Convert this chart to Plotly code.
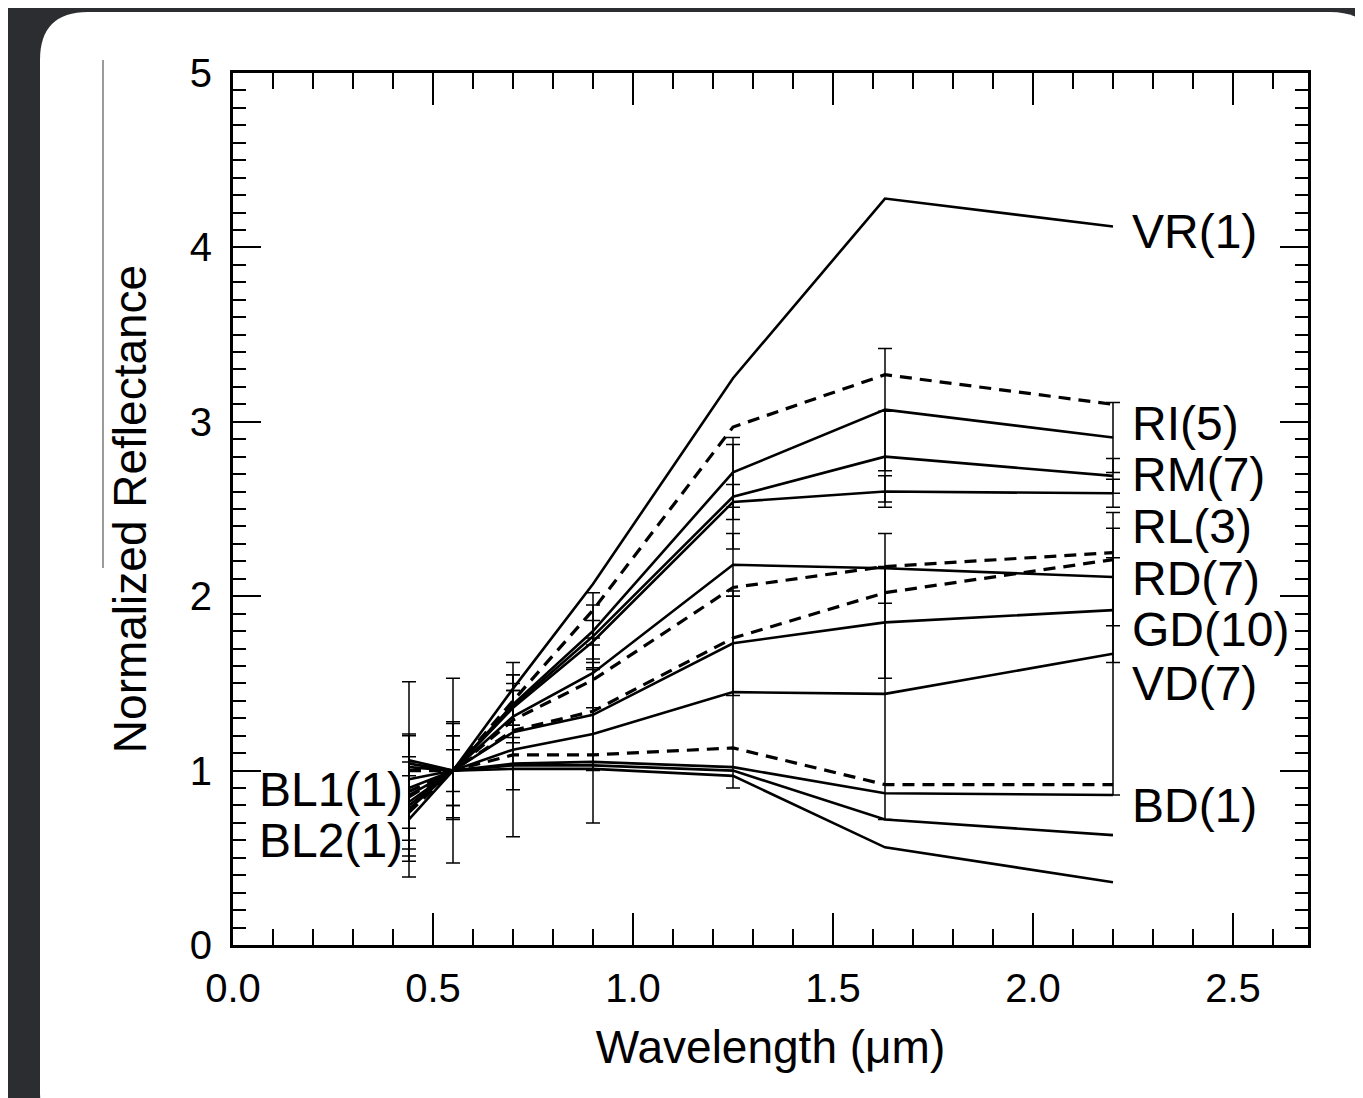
import plotly.graph_objects as go

# ---------------- data ----------------
wavelengths = [0.44, 0.55, 0.70, 0.90, 1.25, 1.63, 2.20]

# class means (solid lines)
VR = [0.72, 1.00, 1.47, 2.07, 3.25, 4.28, 4.12]
RI = [0.78, 1.00, 1.38, 1.80, 2.71, 3.07, 2.91]
RM = [0.80, 1.00, 1.37, 1.77, 2.57, 2.80, 2.69]
RL = [0.82, 1.00, 1.36, 1.74, 2.54, 2.60, 2.59]
RD = [0.86, 1.00, 1.31, 1.56, 2.18, 2.16, 2.11]
GD = [0.90, 1.00, 1.22, 1.32, 1.73, 1.85, 1.92]
VD = [0.95, 1.00, 1.12, 1.21, 1.45, 1.44, 1.67]
BD = [1.02, 1.00, 1.04, 1.05, 1.02, 0.87, 0.86]
BL1 = [1.04, 1.00, 1.03, 1.03, 1.00, 0.72, 0.63]
BL2 = [1.06, 1.00, 1.01, 1.01, 0.97, 0.56, 0.36]

# class standard deviations (error bars)
RI_err = [0.30, 0.20, 0.12, 0.22, 0.20, 0.35, 0.20]
RM_err = [0.25, 0.27, 0.18, 0.18, 0.30, 0.26, 0.10]
RL_err = [0.15, 0.12, 0.10, 0.12, 0.10, 0.09, 0.08]
RD_err = [0.35, 0.20, 0.15, 0.20, 0.18, 0.20, 0.28]
GD_err = [0.30, 0.28, 0.33, 0.32, 0.30, 0.32, 0.30]
VD_err = [0.56, 0.53, 0.50, 0.51, 0.55, 0.72, 0.81]

# dashed spectra
D1 = [0.76, 1.00, 1.40, 1.92, 2.97, 3.27, 3.10]
D2 = [0.85, 1.00, 1.29, 1.52, 2.05, 2.17, 2.25]
D3 = [0.88, 1.00, 1.23, 1.34, 1.76, 2.02, 2.21]
D4 = [1.00, 1.00, 1.09, 1.09, 1.13, 0.92, 0.92]

# labels
right_labels = ["VR(1)", "RI(5)", "RM(7)", "RL(3)", "RD(7)", "GD(10)", "VD(7)", "BD(1)"]
right_label_y = [4.09, 2.99, 2.70, 2.40, 2.10, 1.81, 1.50, 0.80]
right_label_x = 2.2425
left_labels = ["BL1(1)", "BL2(1)"]
left_label_y = [0.89, 0.60]
left_label_x = 0.43

x_ticks = [0.0, 0.5, 1.0, 1.5, 2.0, 2.5]
y_ticks = [0, 1, 2, 3, 4, 5]

# ---------------- figure ----------------
OFF = 8  # page body offset
W, H = 1363 - OFF, 1098 - OFF
L, R, T, B = 233 - OFF, 55, 73 - OFF, 153
FONT = "Liberation Sans, Arial, Helvetica, sans-serif"

fig = go.Figure()

solid = [(VR, None), (RI, RI_err), (RM, RM_err), (RL, RL_err), (RD, RD_err),
         (GD, GD_err), (VD, VD_err), (BD, None), (BL1, None), (BL2, None)]
for vals, err in solid:
    kw = {}
    if err is not None:
        kw["error_y"] = dict(type="data", array=err, color="black",
                             thickness=1.5, width=7)
    fig.add_trace(go.Scatter(x=wavelengths, y=vals, mode="lines",
                             line=dict(color="black", width=2.6),
                             showlegend=False, **kw))

for vals in (D1, D2, D3, D4):
    fig.add_trace(go.Scatter(x=wavelengths, y=vals, mode="lines",
                             line=dict(color="black", width=3.2, dash="12px,8px"),
                             showlegend=False))

for txt, yy in zip(right_labels, right_label_y):
    fig.add_annotation(x=right_label_x, y=yy, text=txt, showarrow=False,
                       xanchor="left", yanchor="middle",
                       font=dict(family=FONT, size=48, color="black"))
for txt, yy in zip(left_labels, left_label_y):
    fig.add_annotation(x=left_label_x, y=yy, text=txt, showarrow=False,
                       xanchor="right", yanchor="middle",
                       font=dict(family=FONT, size=48, color="black"))

# ---------- decorations: white rounded panel over dark background ----------
pw, ph = W - L - R, H - T - B
def px_x(p):
    return (p - OFF - L) / pw
def px_y(p):
    return (H - B - (p - OFF)) / ph

x0, x1, y0, y1, r = 40, 1378, 12, 1140, 48
path = (f"M {px_x(x0 + r)} {px_y(y0)} L {px_x(x1 - r)} {px_y(y0)} "
        f"Q {px_x(x1)} {px_y(y0)} {px_x(x1)} {px_y(y0 + r)} "
        f"L {px_x(x1)} {px_y(y1 - r)} Q {px_x(x1)} {px_y(y1)} {px_x(x1 - r)} {px_y(y1)} "
        f"L {px_x(x0 + r)} {px_y(y1)} Q {px_x(x0)} {px_y(y1)} {px_x(x0)} {px_y(y1 - r)} "
        f"L {px_x(x0)} {px_y(y0 + r)} Q {px_x(x0)} {px_y(y0)} {px_x(x0 + r)} {px_y(y0)} Z")
fig.add_shape(type="path", path=path, xref="paper", yref="paper",
              fillcolor="white", line=dict(width=0), layer="below")
fig.add_shape(type="line", xref="paper", yref="paper",
              x0=px_x(103), x1=px_x(103), y0=px_y(60), y1=px_y(568),
              line=dict(color="#7a7a7a", width=1.5), layer="below")

axis_common = dict(showline=True, linecolor="black", linewidth=2.8,
                   mirror="ticks", ticks="inside", tickcolor="black",
                   showgrid=False, zeroline=False,
                   tickfont=dict(family=FONT, size=40, color="black"))

fig.update_xaxes(range=[0, 2.6875], tickvals=x_ticks,
                 ticktext=[f"{v:.1f}" for v in x_ticks],
                 ticklen=32, tickwidth=2.4,
                 minor=dict(dtick=0.1, tick0=0, ticks="inside", ticklen=16,
                            tickwidth=2.4, tickcolor="black"),
                 ticklabelstandoff=6,
                 title=dict(text="Wavelength (μm)", standoff=22,
                            font=dict(family=FONT, size=46, color="black")),
                 **axis_common)
fig.update_yaxes(range=[0, 5], tickvals=y_ticks,
                 ticktext=[str(v) for v in y_ticks],
                 ticklen=28, tickwidth=2.4,
                 minor=dict(dtick=0.1, tick0=0, ticks="inside", ticklen=13,
                            tickwidth=2.4, tickcolor="black"),
                 ticklabelstandoff=10,
                 title=dict(text="Normalized Reflectance", standoff=29,
                            font=dict(family=FONT, size=46, color="black")),
                 **axis_common)

fig.update_layout(width=W, height=H,
                  margin=dict(l=L, r=R, t=T, b=B, pad=0),
                  paper_bgcolor="#2b2d31", plot_bgcolor="rgba(0,0,0,0)",
                  font=dict(family=FONT, color="black"),
                  showlegend=False)

fig.write_html("out.html")
